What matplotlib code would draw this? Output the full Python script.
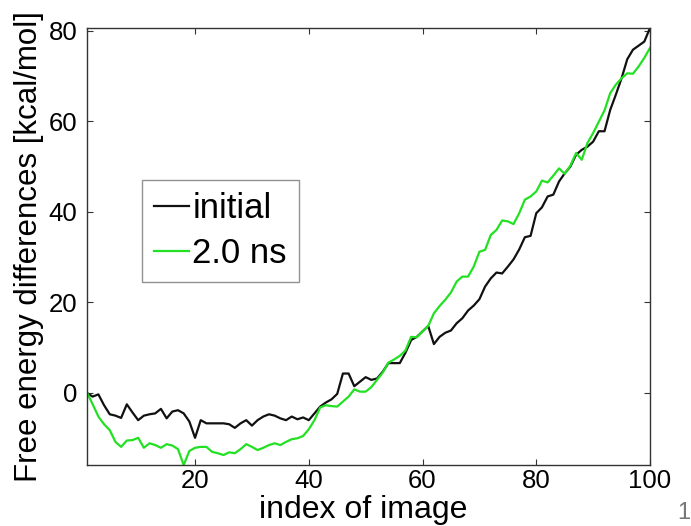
import numpy as np
import matplotlib
matplotlib.use("Agg")
import matplotlib.pyplot as plt

plt.rcParams['font.family'] = ['Liberation Sans', 'DejaVu Sans']

index = list(range(1, 101))

initial = [0.0, -0.8, -0.3, -2.7, -4.7, -5.0, -5.5, -2.5, -4.3, -6.0,
           -5.0, -4.7, -4.5, -3.5, -5.6, -4.1, -3.8, -4.5, -6.3, -9.9,
           -6.0, -6.7, -6.7, -6.7, -6.7, -6.9, -7.7, -6.7, -6.0, -7.2,
           -6.0, -5.2, -4.7, -5.0, -5.6, -6.0, -5.2, -5.8, -5.4, -6.0,
           -4.5, -3.0, -2.1, -1.4, -0.2, 4.3, 4.3, 1.5, 2.5, 3.5,
           2.9, 3.2, 4.7, 6.6, 6.6, 6.6, 8.9, 11.7, 12.4, 13.6,
           14.8, 10.8, 12.4, 13.3, 13.8, 15.4, 16.5, 18.2, 19.3, 20.7,
           23.5, 25.3, 26.6, 26.4, 27.9, 29.5, 31.7, 34.4, 34.7, 39.7,
           41.0, 43.4, 43.8, 46.7, 48.5, 50.0, 52.6, 53.7, 54.4, 55.5,
           57.8, 57.8, 62.5, 65.9, 69.5, 73.7, 75.8, 76.7, 77.6, 80.6]

ns2 = [0.1, -2.5, -5.2, -6.9, -8.2, -10.8, -11.9, -10.5, -10.4, -9.9,
       -12.1, -11.1, -11.5, -12.1, -11.3, -11.6, -12.4, -15.9, -12.8, -12.1,
       -11.9, -11.9, -13.0, -13.3, -13.7, -13.1, -13.3, -12.4, -11.3, -11.9,
       -12.6, -12.1, -11.5, -11.1, -11.5, -10.8, -10.2, -10.0, -9.5, -8.0,
       -6.0, -3.2, -2.7, -2.9, -3.0, -1.9, -0.8, 0.8, 0.3, 0.3,
       1.3, 2.9, 4.5, 6.7, 7.4, 8.2, 9.4, 12.4, 12.3, 13.6,
       14.8, 17.6, 19.2, 20.6, 22.2, 24.6, 25.7, 25.7, 27.9, 31.2,
       31.6, 34.9, 36.0, 38.1, 37.9, 37.3, 39.7, 42.7, 43.4, 44.5,
       46.9, 46.5, 48.0, 49.6, 48.4, 50.2, 53.0, 51.5, 55.2, 57.4,
       59.9, 62.4, 66.2, 68.1, 69.5, 70.6, 70.5, 72.1, 74.0, 76.2]

labels = ['initial', '2.0 ns']
xticks = [20, 40, 60, 80, 100]
yticks = [0, 20, 40, 60, 80]

fig = plt.figure(figsize=(6.91, 5.26), dpi=100)
ax = fig.add_axes([87/691, 1 - 465/526, (650-87)/691, (465-28)/526])

ax.plot(index, initial, color='#111111', lw=1.6, label=labels[0])
ax.plot(index, ns2, color='#22e022', lw=1.6, label=labels[1])

ax.set_xlim(min(index), max(index))
ax.set_ylim(min(min(initial), min(ns2)), max(max(initial), max(ns2)))
ax.set_xticks(xticks)
ax.set_yticks(yticks)
ax.tick_params(direction='in', length=4, width=0.8, labelsize=18.5,
               top=True, right=True, colors='#333333', labelcolor='black')
ax.tick_params(axis='y', pad=7)
ax.tick_params(axis='x', pad=3)
for s in ax.spines.values():
    s.set_color('#333333')
    s.set_linewidth(1.0)

ax.set_xlabel('index of image', fontsize=23)
ax.xaxis.label.set_va('bottom')
ax.xaxis.set_label_coords(0.49, (1 - 525/526 - (1 - 465/526)) / ((465-28)/526))
ax.set_ylabel('Free energy differences [kcal/mol]', fontsize=22.5, labelpad=3)

leg = ax.legend(loc='upper left', bbox_to_anchor=((142-87)/563, (465-180)/437),
                borderaxespad=0, fontsize=25, handlelength=1.0,
                handletextpad=0.1, labelspacing=0.35, borderpad=0.35,
                frameon=True, fancybox=False)
leg.get_frame().set_edgecolor('#777777')
leg.get_frame().set_linewidth(1.0)

fig.text(684/691, 1 - 524/526, '1', fontsize=17, color='#777777',
         ha='center', va='bottom')

fig.savefig('out.png', dpi=100)
